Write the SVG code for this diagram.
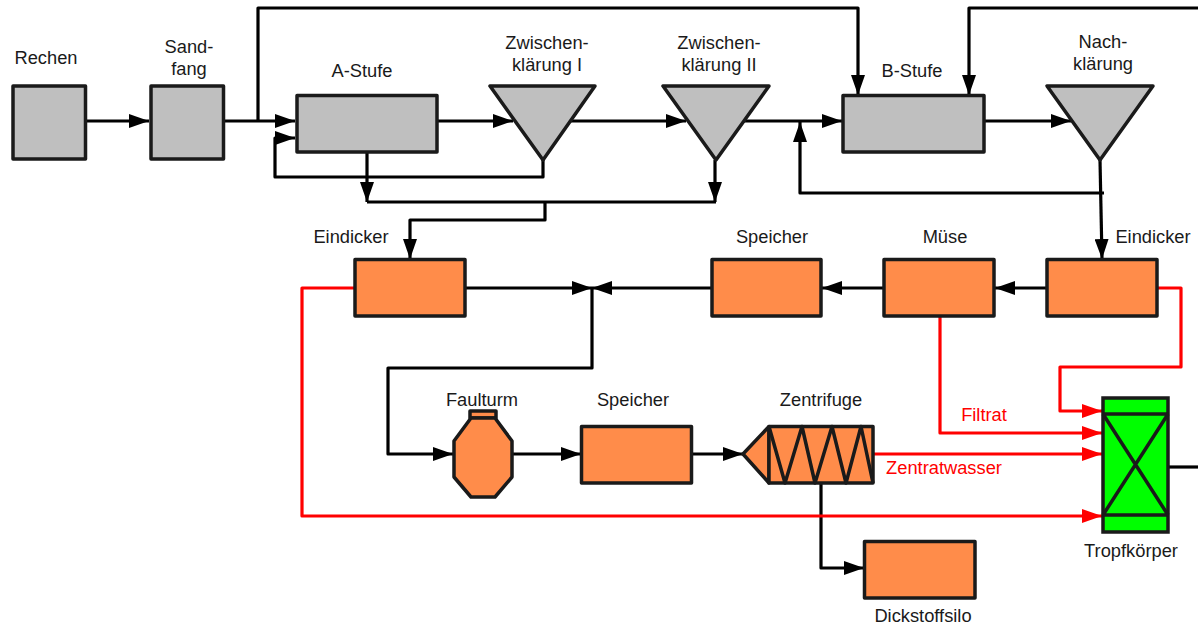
<svg xmlns="http://www.w3.org/2000/svg" width="1198" height="632" viewBox="0 0 1198 632">
<style>
text{font-family:"Liberation Sans",Arial,sans-serif;font-size:18.3px;fill:#1a1a1a;text-anchor:middle}
.g{fill:#bfbfbf;stroke:#1a1a1a;stroke-width:3.5;stroke-linejoin:round}
.o{fill:#ff8c4a;stroke:#1a1a1a;stroke-width:3.5;stroke-linejoin:round}
.l{fill:none;stroke:#1a1a1a;stroke-width:3.5;stroke-linejoin:round}
.c{fill:none;stroke:#000;stroke-width:3.2;stroke-linejoin:round}
.ca{marker-end:url(#a)}
.r{fill:none;stroke:#f00;stroke-width:3.2;stroke-linejoin:round}
.ra{marker-end:url(#ar)}
.rt{fill:#f00}
</style>
<defs>
<marker id="a" markerUnits="userSpaceOnUse" markerWidth="20" markerHeight="14" refX="20" refY="7" orient="auto"><path d="M0 0L20 7L0 14Z" fill="#000"/></marker>
<marker id="ar" markerUnits="userSpaceOnUse" markerWidth="20" markerHeight="14" refX="20" refY="7" orient="auto"><path d="M0 0L20 7L0 14Z" fill="#f00"/></marker>
</defs>
<g id="connectors">
<path class="c ca" d="M86 121H149"/>
<path class="c ca" d="M224 121H295"/>
<path class="c ca" d="M258 121V8H858V95"/>
<path class="c ca" d="M543 160V177H275V138H295"/>
<path class="c ca" d="M367 152V202"/>
<path class="c" d="M367 202H716"/>
<path class="c ca" d="M545 202V220H410V259"/>
<path class="c ca" d="M438 121H513"/>
<path class="c ca" d="M570 121H686"/>
<path class="c ca" d="M715 160V202"/>
<path class="c ca" d="M743 121H842"/>
<path class="c ca" d="M985 121H1071"/>
<path class="c ca" d="M1198 8H969V95"/>
<path class="c ca" d="M1100 160L1102 259"/>
<path class="c ca" d="M1104 193H800V122"/>
<path class="c ca" d="M1046 288H995"/>
<path class="c ca" d="M884 288H822"/>
<path class="c ca" d="M711 288H592"/>
<path class="c ca" d="M466 288H592"/>
<path class="c ca" d="M592 288V368H388V454H453"/>
<path class="c ca" d="M512 454H581"/>
<path class="c ca" d="M692 454H743"/>
<path class="c ca" d="M821 484V568H864"/>
<path class="c" d="M1168 467H1198"/>
<path class="r ra" d="M355 288H302V516H1102"/>
<path class="r ra" d="M940 316V433H1102"/>
<path class="r ra" d="M874 454H1102"/>
<path class="r ra" d="M1157 288H1181V367H1060V411H1102"/>
</g>
<g id="rechen"><rect class="g" x="13" y="86" width="72.500" height="73"/><text x="46" y="64">Rechen</text></g>
<g id="sandfang"><rect class="g" x="151" y="86" width="72.500" height="73"/><text x="189" y="53">Sand-</text><text x="189" y="75">fang</text></g>
<g id="a-stufe"><rect class="g" x="297" y="95.500" width="140" height="56.500"/><text x="362" y="77">A-Stufe</text></g>
<g id="zk1"><path class="g" d="M490 86H595L543 160Z"/><text x="547" y="49">Zwischen-</text><text x="547" y="71">klärung I</text></g>
<g id="zk2"><path class="g" d="M663 86H769L716 160Z"/><text x="719" y="49">Zwischen-</text><text x="719" y="71">klärung II</text></g>
<g id="b-stufe"><rect class="g" x="843" y="95.500" width="141" height="56.500"/><text x="912" y="77">B-Stufe</text></g>
<g id="nachklaerung"><path class="g" d="M1047 86H1153L1100 160Z"/><text x="1103" y="48">Nach-</text><text x="1103" y="70">klärung</text></g>
<g id="eindicker1"><rect class="o" x="355" y="259.500" width="110" height="56.500"/><text x="351" y="243">Eindicker</text></g>
<g id="speicher1"><rect class="o" x="712" y="259.500" width="109" height="56.500"/><text x="772" y="243">Speicher</text></g>
<g id="muese"><rect class="o" x="884" y="259.500" width="110" height="56.500"/><text x="945" y="243">Müse</text></g>
<g id="eindicker2"><rect class="o" x="1047" y="259.500" width="110" height="56.500"/><text x="1153" y="243">Eindicker</text></g>
<g id="faulturm"><rect class="o" x="470" y="411" width="26" height="7"/><path class="o" d="M471 418H495L512 441V477L495 497H471L454 477V441Z"/><text x="482" y="406">Faulturm</text></g>
<g id="speicher2"><rect class="o" x="581.500" y="426.500" width="110" height="56.500"/><text x="633" y="406">Speicher</text></g>
<g id="zentrifuge"><path class="o" d="M769 426.500V483L743 454Z"/><rect class="o" x="769" y="426.500" width="104" height="56.500"/><path class="l" d="M769 426.500L785 483L802 426.500L815 483L832 426.500L846 483L861 426.500L873 483"/><text x="821" y="406">Zentrifuge</text></g>
<g id="dickstoffsilo"><rect class="o" x="864.500" y="541.500" width="110.500" height="56.500"/><text x="923" y="622">Dickstoffsilo</text></g>
<g id="tropfkoerper"><rect x="1103" y="398" width="65" height="134" fill="#0f0" stroke="#1a1a1a" stroke-width="3.5"/><path class="l" d="M1103 414H1168M1103 515H1168M1103 414L1168 515M1168 414L1103 515"/><text x="1131" y="557">Tropfkörper</text></g>
<text class="rt" x="984" y="421">Filtrat</text>
<text class="rt" x="944" y="474">Zentratwasser</text>
</svg>
